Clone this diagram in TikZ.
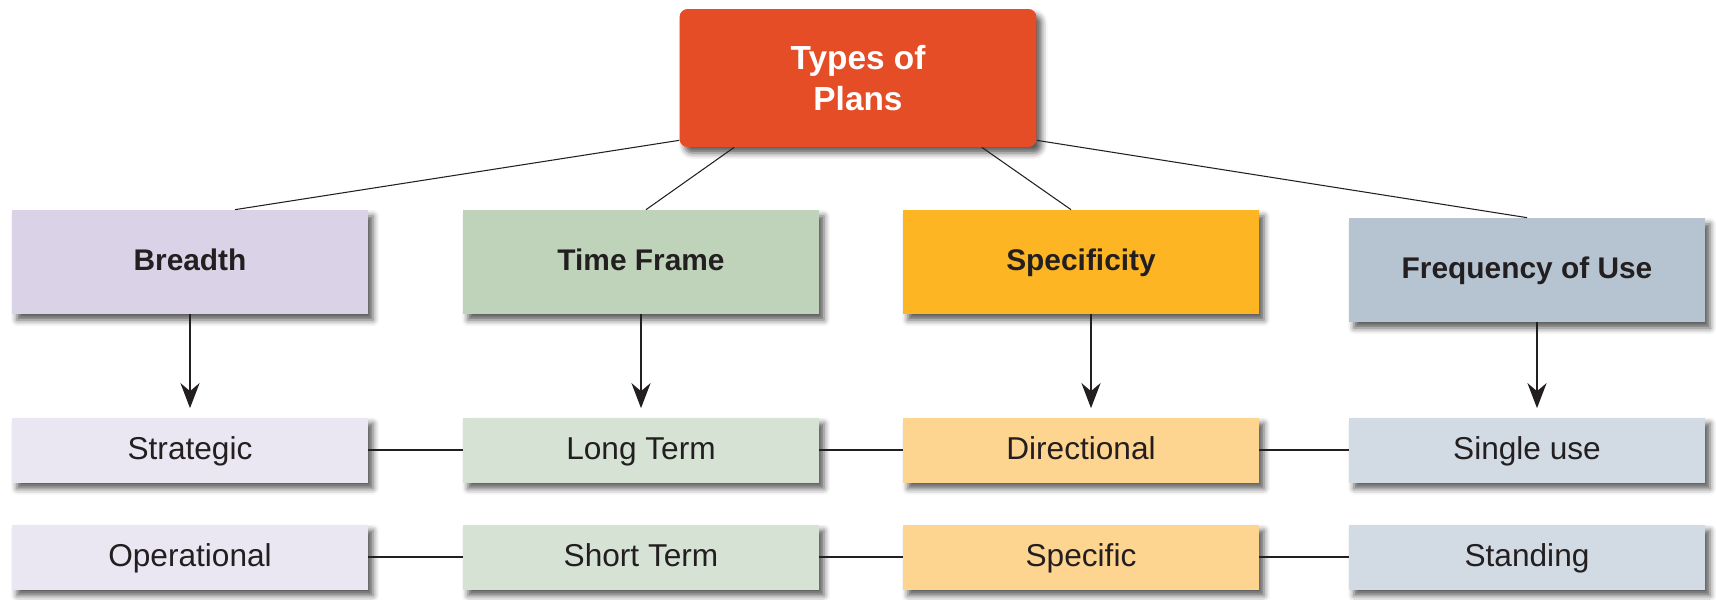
\documentclass[tikz,border=0pt]{standalone}
\usepackage{fontspec}
\setmainfont{Liberation Sans}
\usepackage{xcolor}
\usepackage{tikz}
\usetikzlibrary{arrows.meta,positioning,shadows.blur}
\definecolor{planred}{RGB}{228,77,38}
\definecolor{breadthdark}{RGB}{218,211,231}
\definecolor{breadthlight}{RGB}{234,231,242}
\definecolor{timedark}{RGB}{191,211,186}
\definecolor{timelight}{RGB}{214,226,212}
\definecolor{specdark}{RGB}{253,181,35}
\definecolor{speclight}{RGB}{254,213,144}
\definecolor{freqdark}{RGB}{181,196,208}
\definecolor{freqlight}{RGB}{210,218,227}
\definecolor{labelink}{RGB}{35,31,32}

\begin{document}
\begin{tikzpicture}[
        x=0.02cm, y=-0.02cm,
        every node/.style={font=\fontsize{18}{22}\selectfont, text=labelink},
        boxshadow/.style={blur shadow={shadow xshift=0.1cm, shadow yshift=-0.12cm, shadow blur radius=0.12cm, shadow opacity=65}},
        topbox/.style={rectangle, rounded corners=0.16cm, fill=planred, boxshadow, minimum width=7.14cm, minimum height=2.76cm, align=center, text=white, font=\fontsize{19}{23}\selectfont\bfseries},
        catbox/.style={rectangle, boxshadow, minimum width=7.12cm, minimum height=2.08cm, text height=14pt, text depth=4pt, font=\fontsize{17}{21}\selectfont\bfseries},
        kindbox/.style={rectangle, boxshadow, minimum width=7.12cm, minimum height=1.3cm, text height=15pt, text depth=4pt},
        link/.style={draw=labelink, line width=0.6pt},
        downarrow/.style={draw=labelink, line width=1.5pt, -{Stealth[length=0.5cm, width=0.38cm, inset=0.16cm]}, shorten >=0.18cm},
        joinline/.style={draw=labelink, line width=1.4pt}
    ]
        \useasboundingbox (0,0) rectangle (1716,599);

        \node[topbox] (plans) at (858,78) {Types of\\Plans};

        \node[catbox, fill=breadthdark] (breadth) at (190,262) {Breadth};
        \node[catbox, fill=timedark] (timeframe) at (641,262) {Time Frame};
        \node[catbox, fill=specdark] (specificity) at (1081,262) {Specificity};
        \node[catbox, fill=freqdark] (frequency) at (1527,270) {Frequency of Use};

        \node[kindbox, fill=breadthlight] (strategic) at (190,450) {Strategic};
        \node[kindbox, fill=breadthlight] (operational) at (190,557) {Operational};
        \node[kindbox, fill=timelight] (longterm) at (641,450) {Long Term};
        \node[kindbox, fill=timelight] (shortterm) at (641,557) {Short Term};
        \node[kindbox, fill=speclight] (directional) at (1081,450) {Directional};
        \node[kindbox, fill=speclight] (specific) at (1081,557) {Specific};
        \node[kindbox, fill=freqlight] (singleuse) at (1527,450) {Single use};
        \node[kindbox, fill=freqlight] (standing) at (1527,557) {Standing};

        \draw[link] ([yshift=0.14cm]plans.south west) -- ([xshift=0.9cm]breadth.north);
        \draw[link] ([xshift=1.1cm]plans.south west) -- ([xshift=0.1cm]timeframe.north);
        \draw[link] ([xshift=-1.1cm]plans.south east) -- ([xshift=-0.2cm]specificity.north);
        \draw[link] ([yshift=0.14cm]plans.south east) -- (frequency.north);

        \draw[downarrow] (breadth) -- (strategic);
        \draw[downarrow] (timeframe) -- (longterm);
        \draw[downarrow] ([xshift=0.2cm]specificity.south) -- ([xshift=0.2cm]directional.north);
        \draw[downarrow] ([xshift=0.2cm]frequency.south) -- ([xshift=0.2cm]singleuse.north);

        \draw[joinline] (strategic) -- (longterm);
        \draw[joinline] (longterm) -- (directional);
        \draw[joinline] (directional) -- (singleuse);
        \draw[joinline] (operational) -- (shortterm);
        \draw[joinline] (shortterm) -- (specific);
        \draw[joinline] (specific) -- (standing);
    \end{tikzpicture}
\end{document}
